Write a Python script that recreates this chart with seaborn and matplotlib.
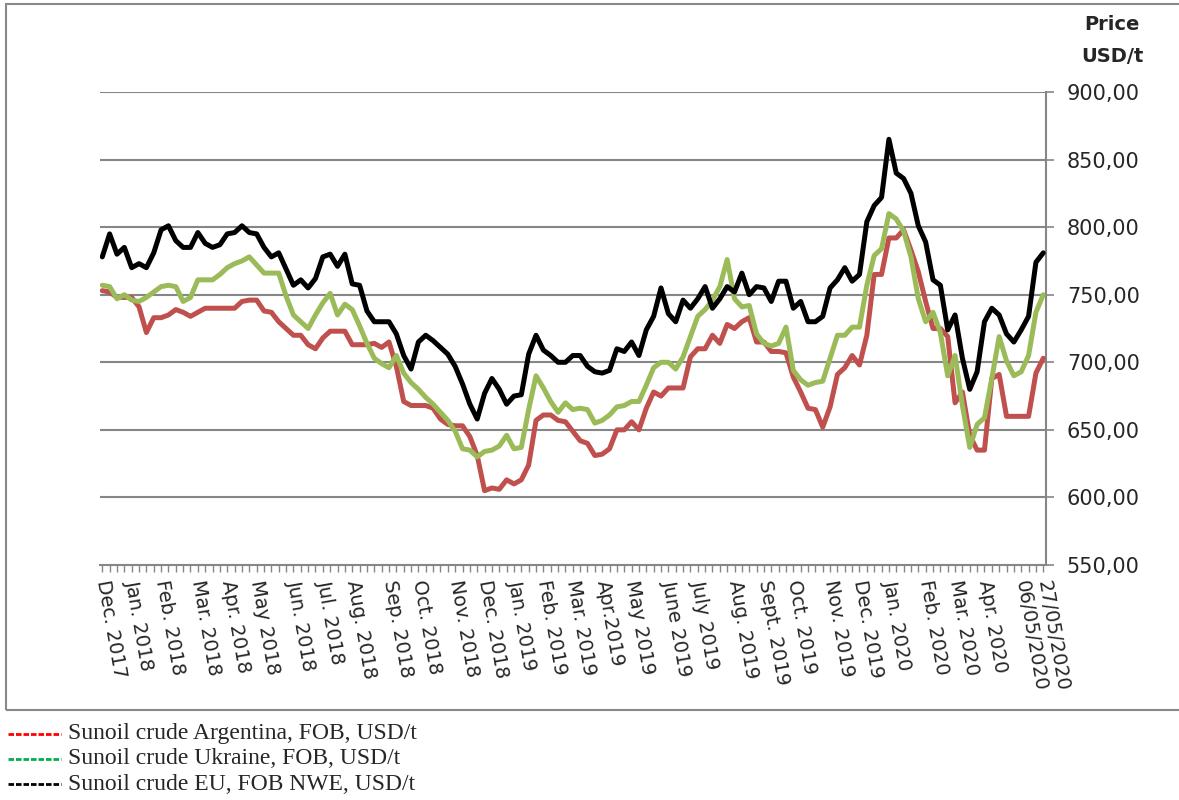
import numpy as np
import pandas as pd
import matplotlib
matplotlib.use("Agg")
import matplotlib.pyplot as plt
import seaborn as sns
from matplotlib.lines import Line2D
from matplotlib.patches import Rectangle

# ---- data (weekly, Dec 2017 .. 27/05/2020) ----
eu = [778, 795, 780, 785, 770, 773, 770, 781, 798, 801, 790, 785, 785, 796, 788, 785, 787, 795, 796, 801,
      796, 795, 785, 778, 781, 769, 757, 761, 755, 762, 778, 780, 771, 780, 758, 757, 738, 730, 730, 730,
      721, 705, 695, 715, 720, 716, 711, 706, 697, 684, 669, 658, 677, 688, 680, 669, 675, 676, 706, 720,
      709, 705, 700, 700, 705, 705, 697, 693, 692, 694, 710, 708, 715, 705, 724, 734, 755, 736, 730, 746,
      740, 747, 756, 740, 747, 756, 752, 766, 750, 756, 755, 745, 760, 760, 740, 745, 730, 730, 734, 755,
      761, 770, 760, 765, 804, 816, 822, 865, 840, 836, 825, 801, 789, 761, 757, 724, 735, 703, 680, 693,
      730, 740, 735, 721, 715, 724, 734, 774, 781]
ukraine = [757, 756, 747, 750, 746, 745, 748, 752, 756, 757, 756, 745, 748, 761, 761, 761, 765, 770, 773, 775,
           778, 772, 766, 766, 766, 749, 735, 730, 725, 735, 744, 751, 735, 743, 739, 727, 714, 703, 699, 696,
           705, 692, 685, 680, 674, 669, 663, 657, 649, 636, 635, 630, 634, 635, 638, 646, 636, 637, 665, 690,
           681, 671, 663, 670, 665, 666, 665, 655, 657, 661, 667, 668, 671, 671, 683, 696, 700, 700, 695, 704,
           719, 734, 739, 746, 756, 776, 747, 741, 742, 721, 714, 712, 714, 726, 694, 687, 683, 685, 686, 703,
           720, 720, 726, 726, 757, 779, 784, 810, 806, 797, 778, 747, 730, 737, 722, 690, 705, 668, 637, 654,
           659, 688, 719, 701, 690, 693, 705, 737, 750]
argentina = [753, 752, 748, 748, 748, 741, 722, 733, 733, 735, 739, 737, 734, 737, 740, 740, 740, 740, 740, 745,
             746, 746, 738, 737, 730, 725, 720, 720, 713, 710, 718, 723, 723, 723, 713, 713, 713, 714, 711, 715,
             697, 671, 668, 668, 668, 666, 658, 654, 653, 653, 645, 631, 605, 607, 606, 613, 610, 613, 624, 657,
             661, 661, 657, 656, 649, 642, 640, 631, 632, 636, 650, 650, 656, 650, 666, 678, 675, 681, 681, 681,
             704, 710, 710, 720, 714, 728, 725, 730, 733, 715, 715, 708, 708, 707, 689, 678, 666, 665, 652, 667,
             691, 696, 705, 698, 720, 765, 765, 792, 792, 798, 783, 767, 745, 725, 725, 719, 670, 678, 646, 635,
             635, 688, 691, 660, 660, 660, 660, 692, 703]

label_idx = [0, 4, 8, 13, 17, 21, 26, 30, 34, 39, 43, 48, 52, 56, 60, 64, 68, 72, 77, 81,
             86, 90, 94, 99, 103, 107, 112, 116, 120, 125, 128]
label_txt = ["Dec. 2017", "Jan. 2018", "Feb. 2018", "Mar. 2018", "Apr. 2018", "May 2018", "Jun. 2018",
             "Jul. 2018", "Aug. 2018", "Sep. 2018", "Oct. 2018", "Nov. 2018", "Dec. 2018", "Jan. 2019",
             "Feb. 2019", "Mar. 2019", "Apr.2019", "May 2019", "June 2019", "July 2019", "Aug. 2019",
             "Sept. 2019", "Oct. 2019", "Nov. 2019", "Dec. 2019", "Jan. 2020", "Feb. 2020", "Mar. 2020",
             "Apr. 2020", "06/05/2020", "27/05/2020"]
y_ticks = [550, 600, 650, 700, 750, 800, 850, 900]
legend_names = ["Sunoil crude Argentina, FOB, USD/t",
                "Sunoil crude Ukraine, FOB, USD/t",
                "Sunoil crude EU, FOB NWE, USD/t"]

n = len(eu)
df = pd.DataFrame({"i": np.arange(n), "EU": eu, "Ukraine": ukraine, "Argentina": argentina})

sns.set_style("white")
plt.rcParams["font.family"] = ["DejaVu Sans"]

W, H = 1179, 800
fig = plt.figure(figsize=(W / 100, H / 100), dpi=100)
ax = fig.add_axes([100 / W, 1 - 565 / H, 946 / W, (565 - 92) / H])

line_w = 3.6
sns.lineplot(data=df, x="i", y="Argentina", ax=ax, color="#C0504D", lw=line_w, zorder=3)
sns.lineplot(data=df, x="i", y="Ukraine", ax=ax, color="#9BBB59", lw=line_w, zorder=4)
sns.lineplot(data=df, x="i", y="EU", ax=ax, color="#000000", lw=line_w, zorder=5)

ax.set_xlim(-0.31, n - 1 + 0.37)
ax.set_ylim(550, 900)
ax.set_xlabel("")
ax.set_ylabel("")

grid_c = "#868686"
for v in y_ticks[1:]:
    ax.axhline(v, color=grid_c, lw=1.5, zorder=1)

for s in ["top", "left"]:
    ax.spines[s].set_visible(False)
for s in ["right", "bottom"]:
    ax.spines[s].set_visible(True)
    ax.spines[s].set_color(grid_c)
    ax.spines[s].set_linewidth(1.5)

ax.yaxis.tick_right()
ax.set_yticks(y_ticks)
ax.set_yticklabels([f"{v:.2f}".replace(".", ",") for v in y_ticks], fontsize=15)
ax.tick_params(axis="y", direction="out", length=6, width=1.2, color=grid_c, pad=9, right=True, left=False)

labels = [""] * n
for k, t in zip(label_idx, label_txt):
    labels[k] = t
ax.set_xticks(np.arange(n))
ax.set_xticklabels(labels, rotation=-80, ha="left", va="center", rotation_mode="anchor", fontsize=14)
ax.tick_params(axis="x", direction="out", length=5, width=1, color=grid_c, pad=6, bottom=True)

fig.text(1112 / W, 1 - 25 / H, "Price", ha="center", va="center", fontsize=14, fontweight="bold")
fig.text(1112 / W, 1 - 57 / H, "USD/t", ha="center", va="center", fontsize=14, fontweight="bold")

# outer chart border
fig.patches.append(Rectangle((6 / W, 1 - 710 / H), (W + 10) / W, (710 - 4) / H,
                             transform=fig.transFigure, fill=False, edgecolor="#888888", lw=1.5))

# legend below chart
leg_colors = ["#FF0000", "#00B050", "#000000"]
for k, (name, c) in enumerate(zip(legend_names, leg_colors)):
    yy = 1 - (734 + 25 * k) / H
    fig.add_artist(Line2D([8 / W, 61 / W], [yy, yy], transform=fig.transFigure, color=c,
                          lw=2.0, dashes=(2.0, 0.7)))
    fig.text(68 / W, yy, name, ha="left", va="center", fontsize=17, family="Liberation Serif")

fig.savefig("out.png", dpi=100)
